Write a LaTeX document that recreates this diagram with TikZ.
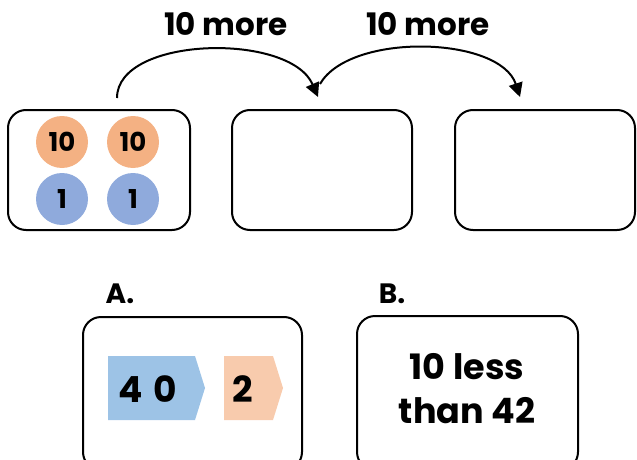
\documentclass[tikz,border=0pt]{standalone}
\usepackage{fontspec}
\setmainfont{Poppins}
\usetikzlibrary{arrows.meta,shapes.symbols}
\definecolor{tenor}{HTML}{F4B183}
\definecolor{oneblue}{HTML}{8FAADC}
\definecolor{lblue}{HTML}{9DC3E6}
\definecolor{lorange}{HTML}{F8CBAD}
\begin{document}
\begin{tikzpicture}[x=1pt,y=-1pt,
  box/.style={draw=black,line width=2pt,rounded corners=18pt},
  disc/.style={circle,minimum size=52pt,inner sep=0pt,font=\bfseries\fontsize{26}{26}\selectfont},
  lbl/.style={font=\bfseries\fontsize{31}{31}\selectfont},
  jump/.style={line width=2pt,-{Triangle[length=14pt,width=14pt]}}]
\useasboundingbox (0,0) rectangle (637,460);
% top boxes
\draw[box] (8,110) rectangle (190,230);
\draw[box] (232,110) rectangle (412,230);
\draw[box] (455,110) rectangle (635,230);
\node[disc,fill=tenor] (t1) at (62,142) {10};
\node[disc,fill=tenor] (t2) at (133,142) {10};
\node[disc,fill=oneblue] (o1) at (62,199) {1};
\node[disc,fill=oneblue] (o2) at (133,199) {1};
% arrows
\coordinate (s1) at (117,98);
\coordinate (e1) at (318,97);
\coordinate (s2) at (320,84);
\coordinate (e2) at (520,97);
\draw[jump] (s1) .. controls (117,36) and (290,32) .. (e1);
\draw[jump] (s2) .. controls (350,32) and (500,36) .. (e2);
\node[lbl] (m1) at (226,24) {10 more};
\node[lbl] (m2) at (428,24) {10 more};
% bottom
\node[font=\bfseries\fontsize{28}{28}\selectfont] (la) at (120,294) {A.};
\node[font=\bfseries\fontsize{28}{28}\selectfont] (lb) at (392,294) {B.};
\draw[box] (83,317) rectangle (302,470);
\draw[box] (357,316) rectangle (578,470);
\fill[lblue] (108,356) -- (195,356) -- (205,388) -- (195,420) -- (108,420) -- cycle;
\fill[lorange] (224,356) -- (273,356) -- (283,388) -- (273,420) -- (224,420) -- cycle;
\node[font=\bfseries\fontsize{36}{36}\selectfont] (n40) at (148,389) {4\hspace{0.3em}0};
\node[font=\bfseries\fontsize{36}{36}\selectfont] (n2) at (243,389) {2};
\node[font=\bfseries\fontsize{35}{44}\selectfont,align=center] (bt) at (467,389) {10 less\\than 42};
\end{tikzpicture}
\end{document}
